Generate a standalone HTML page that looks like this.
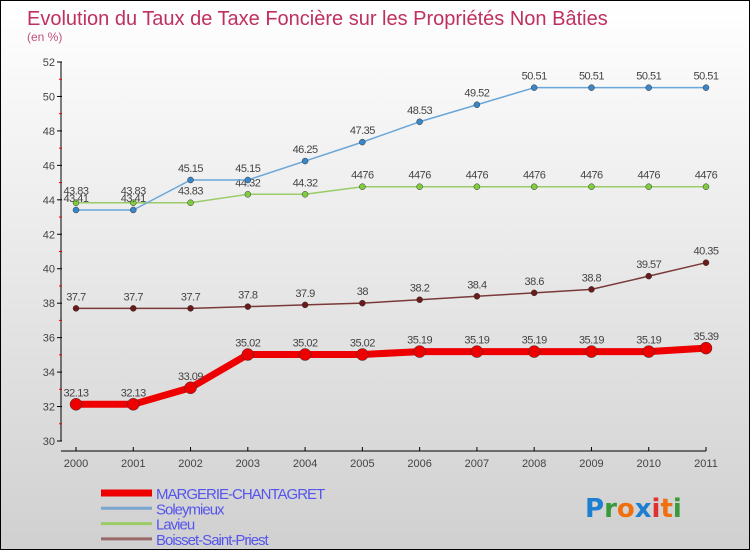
<!DOCTYPE html>
<html><head><meta charset="utf-8"><style>
html,body{margin:0;padding:0}
body{width:750px;height:550px;overflow:hidden;font-family:"Liberation Sans",sans-serif}
#wrap{position:relative;width:748px;height:548px;border:1px solid #000;background:linear-gradient(#ffffff,#d0d0d0)}
svg{position:absolute;left:0;top:0}
</style></head><body>
<div id="wrap">
<svg id="chart" width="750" height="550">
<text x="26" y="24" font-size="20" fill="#c0305e">Evolution du Taux de Taxe Foncière sur les Propriétés Non Bâties</text>
<text x="26" y="40" font-size="12" fill="#c0507e">(en %)</text>
<g id="axes"></g><g id="series"></g><g id="legend"></g>
<g font-size="26" font-weight="bold" font-family="DejaVu Sans, sans-serif">
<text x="584" y="516"><tspan fill="#1e7fd0">P</tspan><tspan fill="#3a9a3a">r</tspan><tspan fill="#f07010">o</tspan><tspan fill="#1e7fd0">x</tspan><tspan fill="#e03030">i</tspan><tspan fill="#f07010">t</tspan><tspan fill="#3a9a3a">i</tspan></text></g>
</svg></div>
<script>
const years=[2000,2001,2002,2003,2004,2005,2006,2007,2008,2009,2010,2011];
const margerie=[32.13,32.13,33.09,35.02,35.02,35.02,35.19,35.19,35.19,35.19,35.19,35.39];
const soleymieux=[43.41,43.41,45.15,45.15,46.25,47.35,48.53,49.52,50.51,50.51,50.51,50.51];
const lavieu=[43.83,43.83,43.83,44.32,44.32,44.76,44.76,44.76,44.76,44.76,44.76,44.76];
const boisset=[37.7,37.7,37.7,37.8,37.9,38,38.2,38.4,38.6,38.8,39.57,40.35];
const yTicks=[30,32,34,36,38,40,42,44,46,48,50,52];
const NS="http://www.w3.org/2000/svg";
function X(i){return 75+i*(705-75)/11;}
function Y(v){return 440-(v-30)*(440-61)/22;}
function mk(t,a,p){const e=document.createElementNS(NS,t);for(const k in a)e.setAttribute(k,a[k]);p.appendChild(e);return e;}
const ax=document.getElementById('axes');
let l=mk('line',{x1:60,y1:61,x2:60,y2:440,stroke:'#000'},ax);


l=mk('line',{x1:60,y1:450,x2:705,y2:450,stroke:'#000'},ax);


yTicks.forEach(v=>{
  mk('line',{x1:56,y1:Y(v),x2:61,y2:Y(v),stroke:'#000'},ax);
  if(v<52) mk('line',{x1:58,y1:Y(v+1),x2:61,y2:Y(v+1),stroke:'#e00'},ax);
  const t=mk('text',{x:54,y:Y(v)+4,'font-size':11,fill:'#444','text-anchor':'end'},ax);
  t.textContent=v;
  
  
});
years.forEach((y,i)=>{
  mk('line',{x1:X(i),y1:446,x2:X(i),y2:450,stroke:'#000'},ax);
  const t=mk('text',{x:X(i),y:466,'font-size':11,fill:'#444','text-anchor':'middle'},ax);
  t.textContent=y;
  
  
});
const sg=document.getElementById('series');
function draw(vals,color,w,r,dot,name,labelFmt){
  const g=mk('g',{},sg);
  
  
  mk('polyline',{points:vals.map((v,i)=>X(i)+','+Y(v)).join(' '),fill:'none',stroke:color,'stroke-width':w,'stroke-linejoin':'round'},g);
  vals.forEach((v,i)=>{
    const c=mk('circle',{cx:X(i),cy:Y(v),r:r,fill:dot,stroke:'#333','stroke-width':0.5},g);
    
    
    const t=mk('text',{x:X(i),y:Y(v)-8,'font-size':11,fill:'#444','text-anchor':'middle','letter-spacing':'-0.5'},g);
    t.textContent=labelFmt(v);
    
    
  });
}
draw(boisset,'#7a3a3a',1.5,3,'#6a1a1a','boisset-series',v=>String(v));
draw(lavieu,'#99cc66',1.5,3,'#80cc40','lavieu-series',v=>(v===44.76?'4476':String(v)));
draw(soleymieux,'#6aa6d8',1.5,3,'#3a86c8','soleymieux-series',v=>String(v));
draw(margerie,'#ee0000',7,6,'#ee0000','margerie-series',v=>String(v));
const lg=document.getElementById('legend');
const items=[['MARGERIE-CHANTAGRET','#ee0000',7],['Soleymieux','#7aa6d0',3],['Lavieu','#99cc66',3],['Boisset-Saint-Priest','#9a6a6a',3]];
items.forEach((it,i)=>{
  const y=492+i*15.3;
  const g=mk('g',{},lg);
  
  
  mk('line',{x1:100,y1:y,x2:151,y2:y,stroke:it[1],'stroke-width':it[2]},g);
  const t=mk('text',{x:155,y:y+6,'font-size':15,fill:'#5555ee','letter-spacing':'-1'},g);
  t.textContent=it[0];
});
</script>
</body></html>
